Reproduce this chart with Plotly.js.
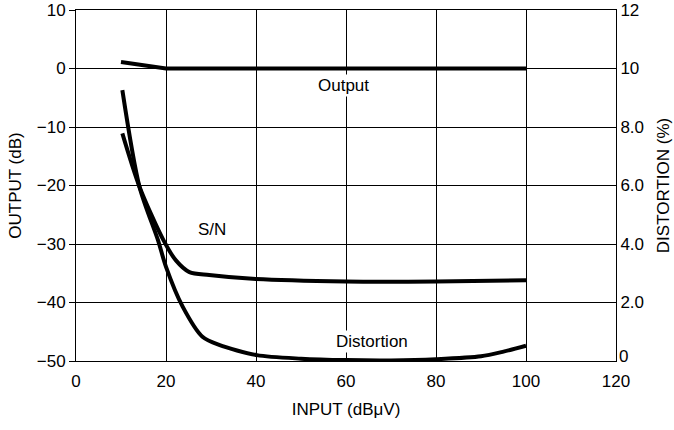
<!DOCTYPE html>
<html>
<head>
<meta charset="utf-8">
<script src="https://cdn.plot.ly/plotly-3.0.1.min.js"></script>
<style>html,body{margin:0;padding:0;background:#fff;}#chart{width:674px;height:430px;}</style>
</head>
<body>
<div id="chart"></div>
<script>
// Input level (dBμV)
const outputX = [10, 20, 30, 40, 50, 60, 70, 80, 90, 100];
const outputY = [1.1, 0, 0, 0, 0, 0, 0, 0, 0, 0];           // dB (left axis)

const snX = [10.3, 14.1, 19.4, 22.2, 25.2, 29.6, 40, 60, 80, 100];
const snY = [-11.1, -20.2, -29.3, -32.8, -34.8, -35.3, -36.0, -36.4, -36.4, -36.2]; // dB (left axis)

const distX = [10.3, 14.1, 18.2, 20, 23.7, 28.1, 31.8, 40.2, 50, 60, 70, 80, 90, 95, 100];
const distY = [9.26, 5.96, 4.14, 3.22, 1.86, 0.83, 0.55, 0.2, 0.08, 0.03, 0.02, 0.06, 0.16, 0.32, 0.52]; // % (right axis)

const xTicks = [0, 20, 40, 60, 80, 100, 120];
const leftTicks = [10, 0, -10, -20, -30, -40, -50];
const rightTicks = [12, 10, 8, 6, 4, 2];
const rightTickText = ["12", "10", "8.0", "6.0", "4.0", "2.0"];
const rightZeroText = "0";

const FONT = "'Liberation Sans', Arial, sans-serif";
const fnt = {family: FONT, size: 17, color: '#000'};

const traces = [
  {x: outputX, y: outputY, mode: 'lines', line: {color: '#000', width: 4}, yaxis: 'y', hoverinfo: 'none'},
  {x: snX, y: snY, mode: 'lines', line: {color: '#000', width: 4, shape: 'spline', smoothing: 0.8}, yaxis: 'y', hoverinfo: 'none'},
  {x: distX, y: distY, mode: 'lines', line: {color: '#000', width: 4, shape: 'spline', smoothing: 0.8}, yaxis: 'y2', hoverinfo: 'none'}
];

const layout = {
  width: 674, height: 430,
  margin: {l: 76, r: 58, t: 10, b: 69},
  paper_bgcolor: '#fff', plot_bgcolor: '#fff',
  showlegend: false,
  font: fnt,
  xaxis: {
    range: [0, 120.0001], tickvals: xTicks, ticktext: xTicks.map(String),
    showgrid: true, gridcolor: '#000', gridwidth: 1,
    showline: true, linecolor: '#000', linewidth: 1, mirror: true,
    zeroline: false, ticks: '', tickfont: fnt, ticklabelstandoff: 5,
    title: {text: 'INPUT (dBμV)', font: fnt, standoff: 12}
  },
  yaxis: {
    range: [-50, 10.0001], tickvals: leftTicks, ticktext: leftTicks.map(v => v < 0 ? '\u2212' + Math.abs(v) : String(v)),
    showgrid: true, gridcolor: '#000', gridwidth: 1,
    showline: true, linecolor: '#000', linewidth: 1,
    zeroline: false, ticks: 'outside', ticklen: 6, tickcolor: '#000', tickfont: fnt,
    title: {text: 'OUTPUT (dB)', font: fnt, standoff: 10}
  },
  yaxis2: {
    range: [0, 12.00002], overlaying: 'y', side: 'right',
    tickvals: rightTicks, ticktext: rightTickText,
    showgrid: false, showline: true, linecolor: '#000', linewidth: 1,
    zeroline: false, ticks: '', tickfont: fnt,
    title: {text: 'DISTORTION (%)', font: fnt, standoff: 14}
  },
  annotations: [
    {x: 59.5, y: -2.9, xref: 'x', yref: 'y', text: 'Output', showarrow: false, font: fnt, bgcolor: '#fff'},
    {x: 30.3, y: -27.5, xref: 'x', yref: 'y', text: 'S/N', showarrow: false, font: fnt, bgcolor: '#fff'},
    {x: 65.7, y: -46.6, xref: 'x', yref: 'y', text: 'Distortion', showarrow: false, font: fnt, bgcolor: '#fff'},
    {x: 1, y: 0, xref: 'paper', yref: 'y2', text: rightZeroText, showarrow: false, font: fnt,
     xanchor: 'left', yanchor: 'middle', xshift: 2, yshift: 5, borderpad: 0}
  ]
};

Plotly.newPlot('chart', traces, layout, {displayModeBar: false, staticPlot: true});
</script>
</body>
</html>
